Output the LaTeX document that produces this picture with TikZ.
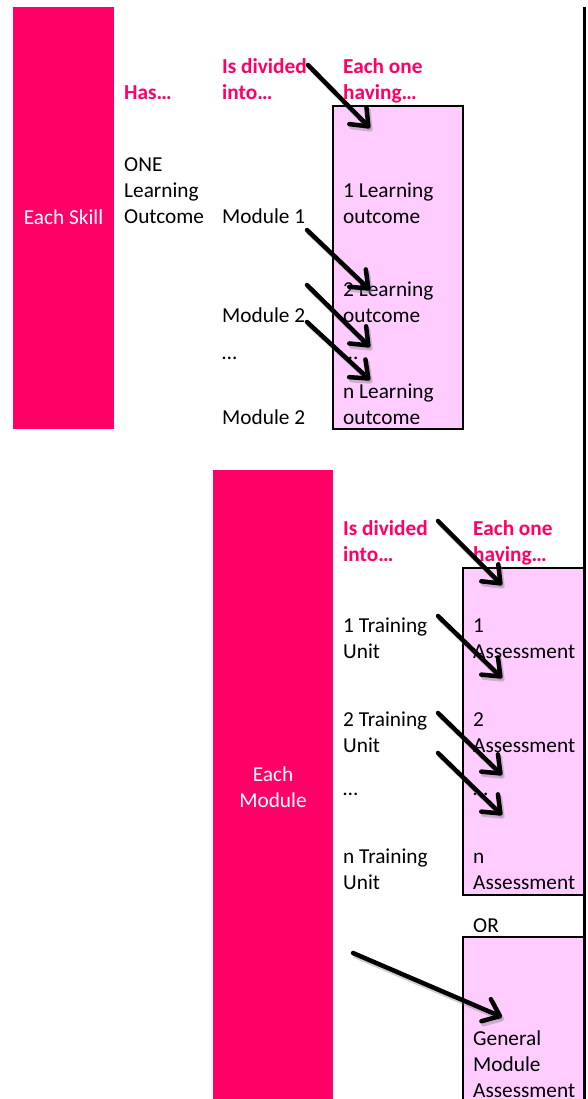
\documentclass[tikz,border=0pt]{standalone}
\usepackage{fontspec}
\setmainfont{Carlito}
\usetikzlibrary{arrows.meta}
\definecolor{hotpink}{RGB}{255,0,102}
\definecolor{lilac}{RGB}{255,204,255}
\tikzset{
  txt/.style={anchor=base west, inner sep=0pt, align=left, font=\fontsize{21.3}{26}\selectfont},
  head/.style={txt, text=hotpink, font=\fontsize{21.3}{26}\selectfont\bfseries},
  bar/.style={fill=hotpink, draw=none},
  lbox/.style={fill=lilac, draw=black, line width=2pt},
  arr/.style={line width=4.5pt, line cap=round, -{Straight Barb[length=15pt,width=24pt,round]}},
  arrshadow/.style={arr, draw=black!55, opacity=0.35},
}
\newcommand{\myarrow}[2]{%
  \draw[arrshadow, transform canvas={shift={(2pt,-3pt)}}] (#1) -- (#2);
  \draw[arr] (#1) -- (#2);}
\begin{document}
\begin{tikzpicture}[x=1pt,y=-1pt]
\useasboundingbox (0,0) rectangle (587,1099);
% ---------- section 1 ----------
\fill[bar] (13,7) rectangle (114,429);
\node[txt, text=white, anchor=base] (skill) at (63.5,225) {Each Skill};
\node[head] (has) at (124,100) {Has…};
\node[head] (div1) at (222,100) {Is divided\\into…};
\node[head] (each1) at (343,100) {Each one\\having…};
\node[txt] (one) at (124,224) {ONE\\Learning\\Outcome};
\node[txt] (m1) at (222,224) {Module 1};
\node[txt] (m2) at (222,322) {Module 2};
\node[txt] (dots1) at (222,359) {…};
\node[txt] (m3) at (222,424) {Module 2};
\draw[lbox] (333,106) rectangle (463,429);
\node[txt] (lo1) at (343,224) {1 Learning\\outcome};
\node[txt] (lo2) at (343,322) {2 Learning\\outcome};
\node[txt] (dots2) at (343,359) {…};
\node[txt] (lo3) at (343,424) {n Learning\\outcome};
\coordinate (a1s) at (308,65);  \coordinate (a1e) at (370,128);
\coordinate (a2s) at (307,230); \coordinate (a2e) at (370,290);
\coordinate (a3s) at (307,285); \coordinate (a3e) at (370,347);
\coordinate (a4s) at (307,322); \coordinate (a4e) at (370,380);
\myarrow{a1s}{a1e}
\myarrow{a2s}{a2e}
\myarrow{a3s}{a3e}
\myarrow{a4s}{a4e}
% ---------- section 2 ----------
\fill[bar] (213,470) rectangle (333,1099);
\node[txt, text=white, anchor=base, align=center] (module) at (273,807) {Each\\Module};
\node[head] (div2) at (343,561) {Is divided\\into…};
\node[head] (each2) at (473,561) {Each one\\having…};
\draw[lbox] (463,568) rectangle (584.5,895);
\draw[lbox] (463,937) rectangle (584.5,1110);
\node[txt] (tu1) at (343,658) {1 Training\\Unit};
\node[txt] (tu2) at (343,752) {2 Training\\Unit};
\node[txt] (dots3) at (343,795) {…};
\node[txt] (tu3) at (343,889) {n Training\\Unit};
\node[txt] (as1) at (473,658) {1\\Assessment};
\node[txt] (as2) at (473,752) {2\\Assessment};
\node[txt] (dots4) at (473,795) {…};
\node[txt] (as3) at (473,889) {n\\Assessment};
\node[txt] (or) at (473,932) {OR};
\node[txt] (gen) at (473,1097) {General\\Module\\Assessment};
\coordinate (b1s) at (438,521); \coordinate (b1e) at (502,585);
\coordinate (b2s) at (438,616); \coordinate (b2e) at (502,678);
\coordinate (b3s) at (438,713); \coordinate (b3e) at (502,775);
\coordinate (b4s) at (438,753); \coordinate (b4e) at (502,815);
\coordinate (b5s) at (353,953); \coordinate (b5e) at (502,1017);
\myarrow{b1s}{b1e}
\myarrow{b2s}{b2e}
\myarrow{b3s}{b3e}
\myarrow{b4s}{b4e}
\myarrow{b5s}{b5e}
% right rule
\draw[line width=3pt] (584.5,7) -- (584.5,1099);
\end{tikzpicture}
\end{document}
